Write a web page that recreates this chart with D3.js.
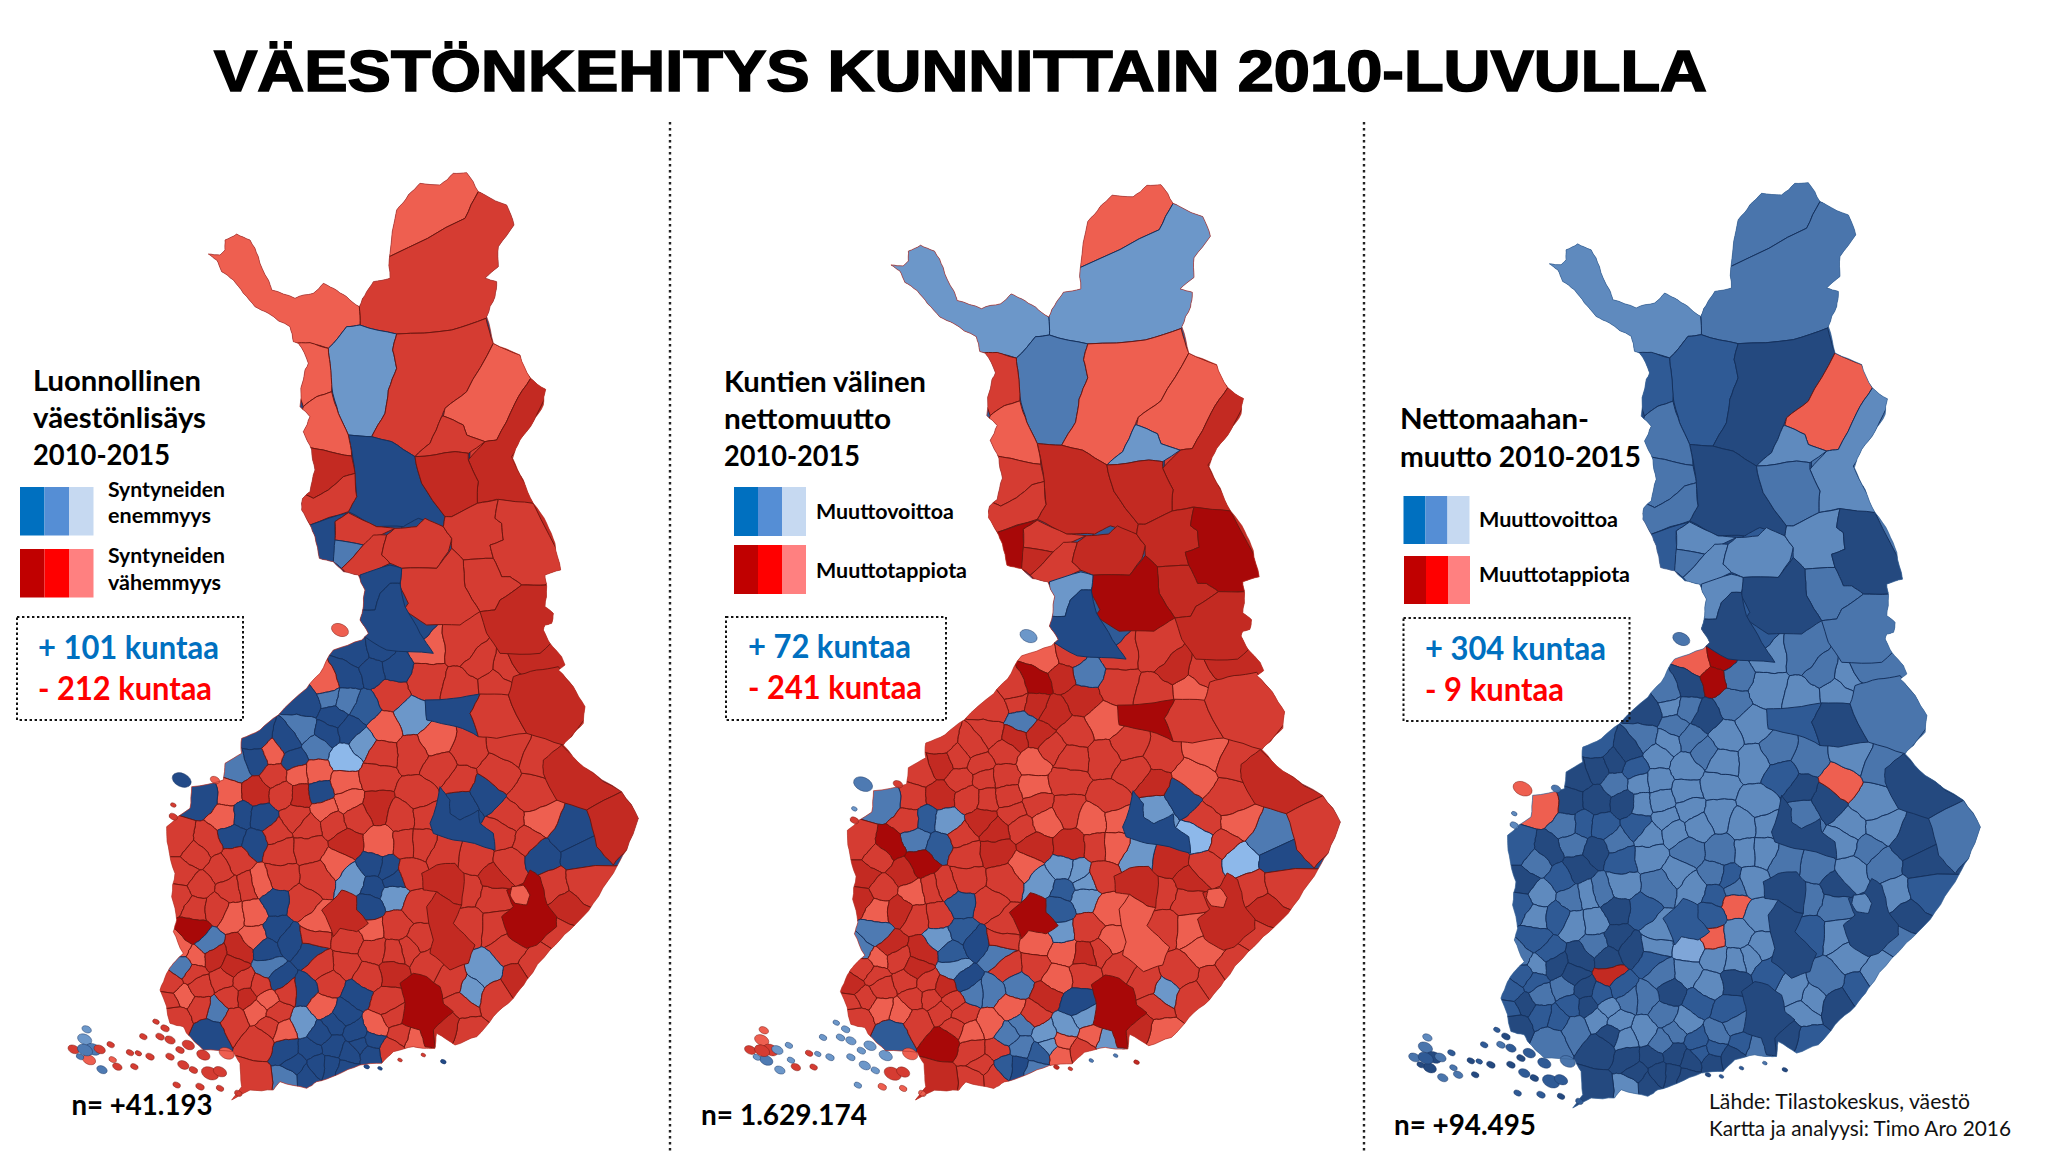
<!DOCTYPE html>
<html><head><meta charset="utf-8">
<script src="https://cdn.jsdelivr.net/npm/d3@7/dist/d3.min.js"></script>
<style>html,body{margin:0;padding:0;background:#fff;}svg{display:block;}</style>
</head><body><div id="chart"></div>
<script>
// ---- class codes: negative = loss (red, -1 light .. -4 dark), positive = gain (blue, 1 light .. 5 dark)
const classCodes=[-4,-3,-2,-1,1,2,3,4,5];
const classColors=['#A80808','#C32A22','#D53C32','#EE5F50','#8DB8EA','#6C97C9','#4E7AB2','#2F5B97','#224A87'];
const immigrationColors=['#A80808','#C32A22','#D53C32','#EE5F50','#7FA6D8','#5F8ABE','#4A75AC','#2F5A95','#24497F'];
const borderLoss='#6F1710', borderGain='#16325E';

// ---- outline (survey units; north part and south part use their own grid)
const outlineNorth=[[480,1380],[490,1340],[495,1290],[475,1245],[430,1235],[400,1205],[358,1195],[345,1130],[330,1095],[305,1050],[308,1015],[330,995],[345,930],[335,870],[310,815],[330,770],[300,740],[315,630],[325,610],[295,550],[280,545],[270,500],[205,460],[165,440],[130,400],[100,360],[65,335],[50,300],[25,282],[60,285],[75,270],[75,240],[110,222],[150,240],[175,290],[205,360],[215,390],[285,415],[340,400],[370,370],[400,385],[440,410],[478,440],[500,395],[520,365],[570,355],[570,280],[590,150],[625,105],[660,70],[720,75],[760,40],[800,38],[835,95],[855,105],[920,135],[942,195],[895,260],[895,320],[855,355],[890,365],[885,410],[860,470],[880,550],[960,585],[992,655],[1037,688],[1030,735],[1000,785],[960,840],[938,895],[970,960],[1000,1030],[1040,1090],[1065,1150],[1082,1230],[1035,1245],[1040,1280],[1035,1340],[1060,1360],[1055,1390],[1035,1395]];
const outlineSouth=[[1150,30],[1170,70],[1205,110],[1215,135],[1195,150],[1240,200],[1275,260],[1270,310],[1235,350],[1210,375],[1270,440],[1385,515],[1435,595],[1400,690],[1360,760],[1300,850],[1230,930],[1170,990],[1100,1080],[1060,1135],[1000,1190],[950,1250],[885,1275],[830,1240],[825,1285],[800,1285],[760,1280],[700,1295],[665,1330],[600,1335],[530,1365],[470,1385],[440,1405],[360,1385],[340,1410],[270,1410],[215,1440],[245,1400],[240,1330],[220,1295],[130,1290],[80,1240],[70,1220],[30,1210],[0,1110],[20,1060],[40,1030],[70,1000],[40,935],[50,900],[35,830],[45,760],[25,680],[20,620],[90,565],[95,500],[190,480],[195,430],[245,400],[245,355],[300,330],[355,285],[440,205],[480,160],[520,90],[605,60],[625,40],[600,0]];

// ---- large northern municipalities: ring and class in each of the three maps
const northRings=[
 [[568,290],[795,175],[835,95],[860,0],[640,0],[550,200]],
 [[568,290],[795,175],[835,95],[950,120],[960,220],[900,350],[900,400],[858,475],[755,510],[590,522],[480,495],[478,440],[500,380],[540,340]],
 [[0,280],[100,200],[170,240],[230,380],[370,350],[478,440],[480,495],[440,500],[385,565],[330,550],[280,560],[200,470],[100,400]],
 [[385,565],[440,500],[480,495],[590,522],[578,570],[590,625],[565,690],[555,760],[515,830],[445,825],[415,760],[395,680],[390,610]],
 [[590,522],[755,510],[858,475],[880,550],[800,695],[735,745],[725,770],[690,850],[645,890],[575,845],[515,830],[555,760],[565,690],[590,625],[578,570]],
 [[880,550],[960,585],[992,655],[945,730],[890,840],[855,845],[800,825],[790,795],[730,768],[735,745],[800,695]],
 [[992,655],[1050,680],[1000,790],[935,890],[1010,1030],[965,1030],[890,1018],[832,1030],[835,965],[805,900],[855,845],[890,840],[945,730]],
 [[730,768],[790,795],[800,825],[855,845],[805,880],[765,875],[645,890],[690,850],[725,770]],
 [[445,825],[515,830],[575,845],[645,890],[665,970],[735,1070],[730,1100],[655,1075],[610,1100],[530,1100],[445,1055],[470,1010],[458,890]],
 [[645,890],[765,875],[805,880],[805,900],[835,965],[832,1030],[755,1070],[735,1070],[665,970]],
 [[280,550],[330,548],[385,565],[390,610],[395,695],[350,710],[310,740],[280,650]],
 [[310,740],[350,710],[395,695],[415,760],[445,825],[455,888],[370,870],[320,860],[290,800]],
 [[320,860],[370,870],[455,888],[465,940],[430,950],[385,990],[340,1015],[310,1000]],
 [[310,1000],[340,1015],[385,990],[430,950],[465,940],[470,1010],[445,1055],[330,1095],[290,1030]],
 [[330,1095],[445,1058],[405,1085],[405,1175],[400,1210],[350,1200]],
 [[445,1058],[530,1100],[585,1105],[490,1155],[405,1140],[405,1085]],
 [[405,1140],[490,1155],[425,1225],[400,1205]],
 [[425,1225],[490,1155],[520,1125],[560,1125],[545,1185],[570,1210],[490,1250],[440,1240]],
 [[560,1125],[585,1105],[650,1100],[675,1075],[730,1100],[755,1135],[745,1175],[710,1225],[605,1225],[570,1210],[545,1185]],
 [[735,1070],[755,1070],[832,1030],[895,1018],[885,1075],[905,1090],[910,1140],[870,1155],[880,1195],[790,1200],[755,1165],[755,1135],[730,1100]],
 [[895,1018],[1000,1030],[1100,1220],[1035,1275],[965,1275],[930,1250],[905,1250],[880,1195],[870,1155],[910,1140],[905,1090],[885,1075]],
 [[790,1200],[880,1195],[905,1250],[930,1250],[965,1275],[900,1320],[885,1350],[840,1355],[795,1280]],
 [[605,1225],[710,1225],[755,1165],[790,1200],[795,1280],[840,1355],[780,1395],[680,1395],[610,1350],[625,1330],[600,1280]],
 [[840,1355],[885,1350],[900,1320],[965,1275],[1040,1275],[1090,1330],[1090,1420],[1020,1480],[900,1480],[860,1420]],
 [[480,1245],[570,1215],[605,1225],[600,1270],[570,1270],[540,1300],[525,1350],[480,1350]],
 [[480,1350],[525,1350],[540,1300],[570,1270],[600,1270],[615,1340],[660,1420],[700,1480],[560,1470],[480,1420]]
];
const northNatural=[-1,-2,-1,2,-2,-1,-3,-2,5,-3,-1,-1,-3,-2,5,-2,3,-2,-2,-2,-2,-2,-2,-3,5,5];
const northMigration=[-1,2,2,3,-1,-1,-3,2,-3,-3,-2,-1,-2,-2,-4,-2,-3,-2,-3,-3,-4,-3,-4,-3,2,5];
const northImmigration=[3,3,2,4,5,-1,2,2,5,3,4,3,3,3,4,2,3,2,2,2,5,3,5,3,2,5];

// ---- large southern municipalities drawn as rings over the small ones
const southRings=[
 [[720,1090],[760,1060],[800,1070],[840,1100],[850,1150],[880,1175],[850,1200],[820,1230],[825,1285],[795,1280],[780,1230],[725,1210],[735,1150]],
 [[1110,750],[1140,770],[1160,850],[1190,890],[1190,920],[1130,975],[1100,985],[1045,950],[1025,890],[1060,860],[1040,810],[1090,790]],
 [[1055,800],[1090,795],[1110,825],[1100,855],[1065,850],[1050,825]],
 [[785,760],[830,735],[885,730],[912,760],[905,855],[880,850],[830,815],[790,810]],
 [[800,860],[830,815],[880,850],[905,855],[880,910],[945,975],[925,1030],[870,1050],[810,1000],[820,960]],
 [[485,870],[545,810],[590,830],[590,870],[625,910],[590,935],[540,925],[520,950]],
 [[810,610],[840,500],[870,540],[870,580],[900,600],[955,570],[960,610],[1000,640],[1005,690],[880,660],[820,640]],
 [[795,240],[880,235],[960,222],[930,280],[955,350],[890,320],[800,300]],
 [[1150,420],[1205,375],[1280,445],[1385,515],[1280,570],[1190,540],[1150,460]],
 [[1280,570],[1385,515],[1440,595],[1400,690],[1360,735],[1310,680]],
 [[930,280],[960,222],[1045,225],[1100,340],[1010,355],[955,350]],
 [[1045,225],[1060,170],[1130,150],[1195,140],[1290,270],[1210,375],[1100,340]]
];
const southRingNatural=[-4,-4,-1,-3,-3,-3,5,5,-3,-3,-2,-3];
const southRingMigration=[-4,-3,-1,-3,-1,-4,5,-4,-3,-2,-2,-2];
const southRingImmigration=[5,5,2,5,5,4,5,4,5,3,5,3];

// ---- small municipalities: [gridX, gridY, natural, migration, immigration]
const kainuuSeeds=[
 [800,80,-1,-2,2],[910,80,-2,-2,3],[1040,140,-2,-2,2],[800,180,-2,-2,2],[690,220,-2,-3,3],[910,200,-2,-2,2],[1000,190,-2,-1,2],[755,290,2,-1,2],[670,325,-1,-2,2],[1090,100,-3,-3,3],[960,130,-2,-3,3]
];
const ostrobothniaSeeds=[
 [690,40,5,4,5],[760,40,5,4,4],[590,100,5,-1,-1],[560,170,5,-4,5],[660,90,5,-2,-4],[700,140,5,3,3],[640,150,5,-3,-4],[500,195,-1,-2,3],[440,250,5,-2,5],[510,230,3,-2,2],[610,265,4,-3,5],[555,240,3,-3,3],[520,290,5,3,3],[430,330,3,-2,3],[500,340,5,-3,2],[570,330,5,-3,3],[470,380,3,-2,2],[610,370,2,-2,3],[555,415,1,-1,2],[380,370,5,-2,5],[290,350,5,-2,4],[400,420,5,-2,4],[290,420,5,-3,5],[235,440,3,-2,5],[340,400,-1,-2,5]
];
const vaasaSeeds=[
 [205,520,-1,-2,5],[130,530,5,3,-1],[200,590,-1,-2,3],[290,515,-3,-3,5],[370,520,-2,-2,5],[345,465,-2,-2,3],[415,465,-1,-2,2],[470,460,-1,-2,2],[480,515,5,-2,2],[420,525,-3,-2,2],[555,490,-1,-1,2],[565,545,-1,-2,2],[495,570,-1,-2,2],[650,560,-3,-2,2],[650,470,-2,-2,2],[410,590,-2,-3,4],[520,610,-2,-2,2],[445,620,-2,-3,2],[590,590,-2,-1,2],[245,590,5,4,4],[305,595,5,2,4],[220,645,5,3,3],[285,665,5,4,5],[230,720,-2,-4,5],[140,670,-2,-4,5]
];
const inlandSeeds=[
 [345,640,-2,-2,3],[360,690,-2,-2,4],[450,680,-2,-3,2],[560,670,-3,-3,3],[660,670,-1,-3,3],[530,730,-1,-1,2],[475,770,-2,-2,3],[360,770,-2,-2,2],[420,850,-2,-2,4],[640,740,5,2,3],[580,780,2,2,2],[640,800,5,4,4],[700,825,2,2,-1],[625,860,5,4,4],[680,750,5,2,4],[700,780,5,2,3],[470,905,-1,-2,2],[300,790,-1,-2,3]
];
const satakuntaSeeds=[
 [60,660,-2,-2,4],[110,700,-2,-2,3],[180,750,-2,-3,4],[70,760,-2,-3,5],[120,800,-2,-2,2],[60,830,-2,-3,4],[210,810,-2,-1,3],[265,800,-2,-2,2],[110,860,-2,-1,2],[170,860,-2,-3,4],[220,885,-1,-2,2],[280,880,-1,-2,2],[100,935,-4,3,4],[140,975,3,-3,4],[240,990,-3,-3,5],[285,950,-1,2,3],[60,985,-1,3,3],[345,845,5,4,5],[350,930,5,4,5],[320,990,5,4,5],[325,1040,3,2,-3],[360,1080,5,5,4],[390,960,5,5,5],[450,1000,5,3,4]
];
const hameSeeds=[
 [460,950,-2,-2,2],[570,960,-2,-1,1],[640,990,-2,-1,2],[630,925,-1,2,-1],[560,1035,-2,-2,2],[480,1040,-2,-2,3],[710,920,-2,-2,2],[775,860,-2,-1,2],[780,960,-2,-1,2],[745,990,-2,-2,2],[705,1000,-2,-3,2],[930,810,-2,-2,3],[990,830,-2,-2,3],[925,910,-2,-2,4],[1010,915,-2,-1,2],[1000,775,-3,-3,5],[950,720,-2,-3,3],[1050,730,-2,-2,2],[850,700,-2,2,3]
];
const karjalaSeeds=[
 [1145,710,5,1,3],[1220,640,5,3,5],[1260,710,5,5,5],[1110,530,-2,-2,2],[1050,600,-2,-2,2],[1135,600,-1,-1,2],[1030,640,-2,1,2],[1100,660,-2,-2,3],[910,550,5,2,3],[970,515,5,5,5],[900,485,-2,-3,5],[1010,460,-2,-1,-1],[920,390,-2,-2,3],[1050,380,-2,-1,2],[1130,400,-2,-2,3]
];
const savoSeeds=[
 [825,365,-1,-2,3],[760,400,-2,-2,2],[660,400,-2,-2,2],[840,440,-2,-2,4],[770,530,-2,-2,2],[730,590,-2,-1,2],[790,590,-2,-1,2],[740,670,-2,-2,2],[780,670,-2,-1,2],[750,760,-2,-2,2],[1190,800,-2,-2,2],[1260,790,-2,-2,4],[1220,850,-3,-3,5],[1200,950,-2,-2,3],[1050,980,-2,-1,2],[1130,1030,-2,-2,2],[1075,1085,-3,-2,4]
];
const uusimaaSeeds=[
 [970,1060,2,-2,3],[930,1110,2,2,2],[880,1090,-2,-2,2],[1010,1130,-2,-2,5],[900,1150,-2,-2,2],[910,1240,-2,-1,4],[860,1220,-3,-3,5],[700,1060,-3,-2,5],[800,1030,-2,-2,4],[620,1070,-2,-1,2],[510,1090,-2,3,5],[430,1110,5,3,3],[490,1160,-1,-1,3],[590,1120,5,-3,4],[680,1150,-2,5,4],[700,1190,-2,2,3],[650,1220,-1,2,3],[770,1260,-1,2,3],[720,1240,-2,-1,4],[690,1290,-2,-2,5],[520,1210,5,3,3],[590,1240,5,2,4],[380,1290,5,-2,5],[450,1290,5,-2,5],[520,1280,5,3,5],[570,1300,5,4,5],[630,1300,5,-1,5],[440,1360,5,-2,5],[510,1340,5,5,5],[385,1380,3,-2,2],[430,1210,2,-1,2],[480,1240,5,3,3],[550,1180,5,-2,2],[470,1335,5,4,5],[410,1335,5,-2,5],[560,1350,5,3,5],[600,1275,5,2,4],[640,1260,5,-1,4]
];
const varsinaisSeeds=[
 [350,1180,-2,-2,2],[380,1110,-2,3,3],[300,1260,-2,-4,5],[280,1380,-2,-3,5],[260,1130,-3,-2,5],[290,1170,-1,-2,2],[170,1170,3,-1,4],[150,1235,5,4,3],[70,1130,-1,-2,5],[120,1100,-2,-2,3],[70,1040,3,-2,4],[30,1090,-2,-3,4],[50,1190,-2,-2,5],[190,1080,-2,-2,3],[250,1085,-2,-2,5],[160,1010,-3,-2,5],[110,1010,-1,-1,2],[210,1130,-2,-2,4],[320,1140,-1,-2,2],[300,1100,-2,-3,4],[330,1220,-2,-2,5],[120,1160,-2,-1,4],[100,1060,-2,-2,4],[220,1040,-3,-3,5],[220,1200,-2,-2,3],[30,1150,-2,-2,4],[370,1235,-1,-1,2]
];
const southSeeds=[kainuuSeeds,ostrobothniaSeeds,vaasaSeeds,inlandSeeds,satakuntaSeeds,hameSeeds,karjalaSeeds,savoSeeds,uusimaaSeeds,varsinaisSeeds].flat();

// ---- islands: [gridX, gridY, size, natural, migration, immigration]
const alandIslands=[[-259,1288,12,-2,-2,3],[-226,1258,15,2,-1,3],[-200,1288,16,3,-2,5],[-181,1288,12,-2,2,3],[-213,1319,14,-1,3,5],[-174,1349,11,3,2,3],[-148,1274,8,-2,2,4],[-142,1319,8,-1,2,3],[-220,1228,10,2,-1,2],[-240,1310,8,3,2,5],[-225,1290,16,3,-2,4]];
const archipelagoIslands=[[15,1225,9,-2,2,5],[30,1260,11,-2,2,4],[60,1290,9,-2,2,5],[85,1275,13,-2,2,4],[30,1310,9,-2,2,5],[70,1335,12,-2,2,4],[130,1305,14,-2,2,4],[100,1350,9,-2,2,5],[150,1360,18,-2,-2,4],[200,1300,16,-1,-1,3],[180,1355,14,-2,-2,4],[50,1395,8,-2,2,4],[120,1400,9,-2,-1,4],[180,1405,8,-2,-1,5],[235,1420,8,-2,-1,4],[-90,1298,8,-2,-2,5],[-50,1250,8,-2,2,4],[-12,1205,7,-2,2,4],[0,1250,9,-2,2,3],[-30,1310,9,-2,2,5],[-77,1340,8,-2,-2,5],[-128,1340,10,-2,-2,3],[-65,1300,7,-2,2,4]];
const coastIslands=[[65,480,20,5,3,-1],[40,590,9,-2,-2,2],[40,555,6,-2,2,2],[540,30,18,-1,2,3],[165,480,10,-1,-2,3],[850,1325,6,5,-3,5],[620,1340,6,5,-3,5],[660,1345,5,5,-2,4],[720,1320,5,-2,3,4],[790,1305,5,-2,3,3]];
const islands=[alandIslands,archipelagoIslands,coastIslands].flat();

// ---- per-map placement
const mapNames=['natural','migration','immigration'];
const baseXDomain=[208,638], baseYDomain=[172,1100];
const mapXRanges=[[208,638],[890.6,1340],[1549,1980]];
const mapYRanges=[[172,1100],[184,1100],[182,1108]];

// ---- texts
const titleText='VÄESTÖNKEHITYS KUNNITTAIN 2010-LUVULLA';
const headingLines=[
 [{t:'Luonnollinen',x:33,y:391,w:168},{t:'väestönlisäys',x:33,y:428,w:173},{t:'2010-2015',x:33,y:465,w:137}],
 [{t:'Kuntien välinen',x:724,y:392,w:202},{t:'nettomuutto',x:724,y:429,w:167},{t:'2010-2015',x:724,y:466,w:136}],
 [{t:'Nettomaahan-',x:1400,y:429,w:189},{t:'muutto 2010-2015',x:1400,y:467,w:241}]
];
const legendLabels=[
 [{t:'Syntyneiden',x:108,y:497,w:117},{t:'enemmyys',x:108,y:523,w:103},{t:'Syntyneiden',x:108,y:563,w:117},{t:'vähemmyys',x:108,y:590,w:113}],
 [{t:'Muuttovoittoa',x:816,y:519,w:138},{t:'Muuttotappiota',x:816,y:578,w:151}],
 [{t:'Muuttovoittoa',x:1479,y:527,w:139},{t:'Muuttotappiota',x:1479,y:582,w:151}]
];
const gainColors=['#0070C0','#558ED5','#C6D9F1'], lossColors=['#C00000','#FF0000','#FF8080'];
const swatches=[
 {gx:20,gy:487,rx:20,ry:549,w:24.5,h:48.5},
 {gx:734,gy:487,rx:734,ry:545,w:24,h:49},
 {gx:1403.5,gy:496,rx:1404,ry:556,w:22,h:48}
];
const boxes=[[17,617,226,103],[726,617,220,103],[1403.5,618,226,103]];
const gainCounts=[{t:'+ 101 kuntaa',x:38,y:659,w:181},{t:'+ 72 kuntaa',x:748,y:658,w:163},{t:'+ 304 kuntaa',x:1425,y:660,w:181}];
const lossCounts=[{t:'- 212 kuntaa',x:38,y:700,w:174},{t:'- 241 kuntaa',x:748,y:699,w:174},{t:'- 9 kuntaa',x:1425,y:701,w:139}];
const totals=[{t:'n= +41.193',x:71.5,y:1115,w:141},{t:'n= 1.629.174',x:701,y:1125,w:166},{t:'n= +94.495',x:1394,y:1135,w:142}];
const sourceLines=[{t:'Lähde: Tilastokeskus, väestö',x:1709,y:1109,w:261},{t:'Kartta ja analyysi: Timo Aro 2016',x:1709,y:1136,w:302}];
const dividerXs=[670,1364];

// ---- drawing
const W=2048,H=1152;
const svg=d3.select('#chart').append('svg').attr('width',W).attr('height',H).style('background','#fff');
const stroke=c=>c<0?borderLoss:borderGain;
// survey grids -> common base frame
const northX=d3.scaleLinear().domain([0,1440]).range([200,680]);
const northY=d3.scaleLinear().domain([0,1440]).range([160,640]);
const southX=d3.scaleLinear().domain([0,1470]).range([160,650]);
const southY=d3.scaleLinear().domain([0,1470]).range([620,1110]);
const toBaseN=p=>[northX(p[0]),northY(p[1])];
const toBaseS=p=>[southX(p[0]),southY(p[1])];

// irregular shared borders: each edge is broken the same way from both sides
const wobble=(x,y)=>{const s=Math.sin(x*12.9898+y*78.233)*43758.5453;return s-Math.floor(s)-.5;};
function breakEdge(a,b,share,depth){
  if(depth===0) return [];
  const m=[(a[0]+b[0])/2,(a[1]+b[1])/2], dx=b[0]-a[0], dy=b[1]-a[1];
  const k=.28*share*wobble(+m[0].toFixed(2),+m[1].toFixed(2));
  const p=[m[0]-dy*k,m[1]+dx*k];
  return breakEdge(a,p,share,depth-1).concat([p],breakEdge(p,b,share,depth-1));
}
function roughen(ring,share,depth){
  const out=[];
  ring.forEach((a,i)=>{
    const b=ring[(i+1)%ring.length];
    const fwd=a[0]<b[0]||(a[0]===b[0]&&a[1]<b[1]);
    const mid=fwd?breakEdge(a,b,share,depth):breakEdge(b,a,share,depth).reverse();
    out.push(a,...mid);
  });
  return out;
}
const round2=p=>[+p[0].toFixed(2),+p[1].toFixed(2)];
const outlineBase=roughen(outlineNorth.map(toBaseN).concat(outlineSouth.map(toBaseS)),.35,2);
const ringsBase=northRings.map(r=>roughen(r.map(toBaseN).map(round2),.18,2));
const southRingsBase=southRings.map(r=>roughen(r.map(toBaseS).map(round2),.3,2));
const seedsBase=southSeeds.map(toBaseS);
const voronoi=d3.Delaunay.from(seedsBase).voronoi([0,0,800,1200]);
const cellsBase=seedsBase.map((_,i)=>{const c=voronoi.cellPolygon(i);return c?roughen(c.slice(0,-1).map(round2),.55,3):null;});
const northValues=[northNatural,northMigration,northImmigration];
const southRingValues=[southRingNatural,southRingMigration,southRingImmigration];

mapNames.forEach((name,mi)=>{
  const fill=d3.scaleOrdinal().domain(classCodes).range(mi===2?immigrationColors:classColors);
  const sx=d3.scaleLinear().domain(baseXDomain).range(mapXRanges[mi]);
  const sy=d3.scaleLinear().domain(baseYDomain).range(mapYRanges[mi]);
  const line=d3.line().x(d=>sx(d[0])).y(d=>sy(d[1])).curve(d3.curveLinearClosed);
  const id='clip-'+name;
  svg.append('clipPath').attr('id',id).append('path').attr('d',line(outlineBase));
  const g=svg.append('g').attr('clip-path',`url(#${id})`);
  g.append('path').attr('d',line(outlineBase)).attr('fill',fill(mi===2?3:-2));
  g.selectAll('path.cell').data(southSeeds).enter().append('path').attr('class','cell')
    .attr('d',(d,i)=>cellsBase[i]?line(cellsBase[i]):null)
    .attr('fill',d=>fill(d[2+mi])).attr('stroke',d=>stroke(d[2+mi])).attr('stroke-width',1).attr('stroke-linejoin','round');
  g.selectAll('path.sring').data(southRingsBase).enter().append('path').attr('class','sring')
    .attr('d',line).attr('fill',(d,i)=>fill(southRingValues[mi][i])).attr('stroke',(d,i)=>stroke(southRingValues[mi][i])).attr('stroke-width',1).attr('stroke-linejoin','round');
  g.selectAll('path.north').data(ringsBase).enter().append('path').attr('class','north')
    .attr('d',line).attr('fill',(d,i)=>fill(northValues[mi][i])).attr('stroke',(d,i)=>stroke(northValues[mi][i])).attr('stroke-width',1).attr('stroke-linejoin','round');
  svg.append('g').selectAll('ellipse').data(islands).enter().append('ellipse')
    .attr('cx',d=>sx(southX(d[0]))).attr('cy',d=>sy(southY(d[1])))
    .attr('rx',d=>d[2]/2).attr('ry',d=>d[2]/3)
    .attr('transform',d=>`rotate(25 ${sx(southX(d[0]))} ${sy(southY(d[1]))})`)
    .attr('fill',d=>fill(d[3+mi])).attr('stroke',d=>stroke(d[3+mi])).attr('stroke-width',.4);
  svg.append('path').attr('d',line(outlineBase)).attr('fill','none').attr('stroke',mi==2?'#3E6798':'#B5362C').attr('stroke-width',.7);
});

// title
svg.append('text').text(titleText).attr('x',214).attr('y',91)
 .attr('font-family','Liberation Sans, Arial, sans-serif').attr('font-weight',700).attr('font-size',57)
 .attr('fill','#000').attr('stroke','#000').attr('stroke-width',1.6)
 .attr('textLength',1493).attr('lengthAdjust','spacingAndGlyphs');

// dividers
svg.selectAll('line.div').data(dividerXs).enter().append('line').attr('class','div')
 .attr('x1',d=>d).attr('x2',d=>d).attr('y1',122).attr('y2',1152)
 .attr('stroke','#222').attr('stroke-width',2.4).attr('stroke-dasharray','2.6 3.4');

function labels(items,size,color,weight){
  svg.append('g').selectAll('text').data(items).enter().append('text')
   .text(d=>d.t).attr('x',d=>d.x).attr('y',d=>d.y)
   .attr('font-family','Lato, Open Sans, sans-serif').attr('font-weight',weight||700)
   .attr('font-size',size).attr('fill',color)
   .attr('textLength',d=>d.w).attr('lengthAdjust','spacingAndGlyphs');
}
labels(headingLines.flat(),29,'#000');
labels(legendLabels[0],21,'#000');
labels(legendLabels[1].concat(legendLabels[2]),21,'#000');
labels(gainCounts,33,'#0070C0');
labels(lossCounts,33,'#FF0000');
labels(totals,28,'#000');
labels(sourceLines,22,'#111',400);

swatches.forEach(s=>{
  const row=(cols,x,y)=>svg.append('g').selectAll('rect').data(cols).enter().append('rect')
   .attr('x',(d,i)=>x+i*s.w).attr('y',y).attr('width',s.w).attr('height',s.h).attr('fill',d=>d);
  row(gainColors,s.gx,s.gy); row(lossColors,s.rx,s.ry);
});
svg.append('g').selectAll('rect').data(boxes).enter().append('rect')
 .attr('x',d=>d[0]).attr('y',d=>d[1]).attr('width',d=>d[2]).attr('height',d=>d[3])
 .attr('fill','none').attr('stroke','#111').attr('stroke-width',2).attr('stroke-dasharray','2.4 2.6');
</script></body></html>
